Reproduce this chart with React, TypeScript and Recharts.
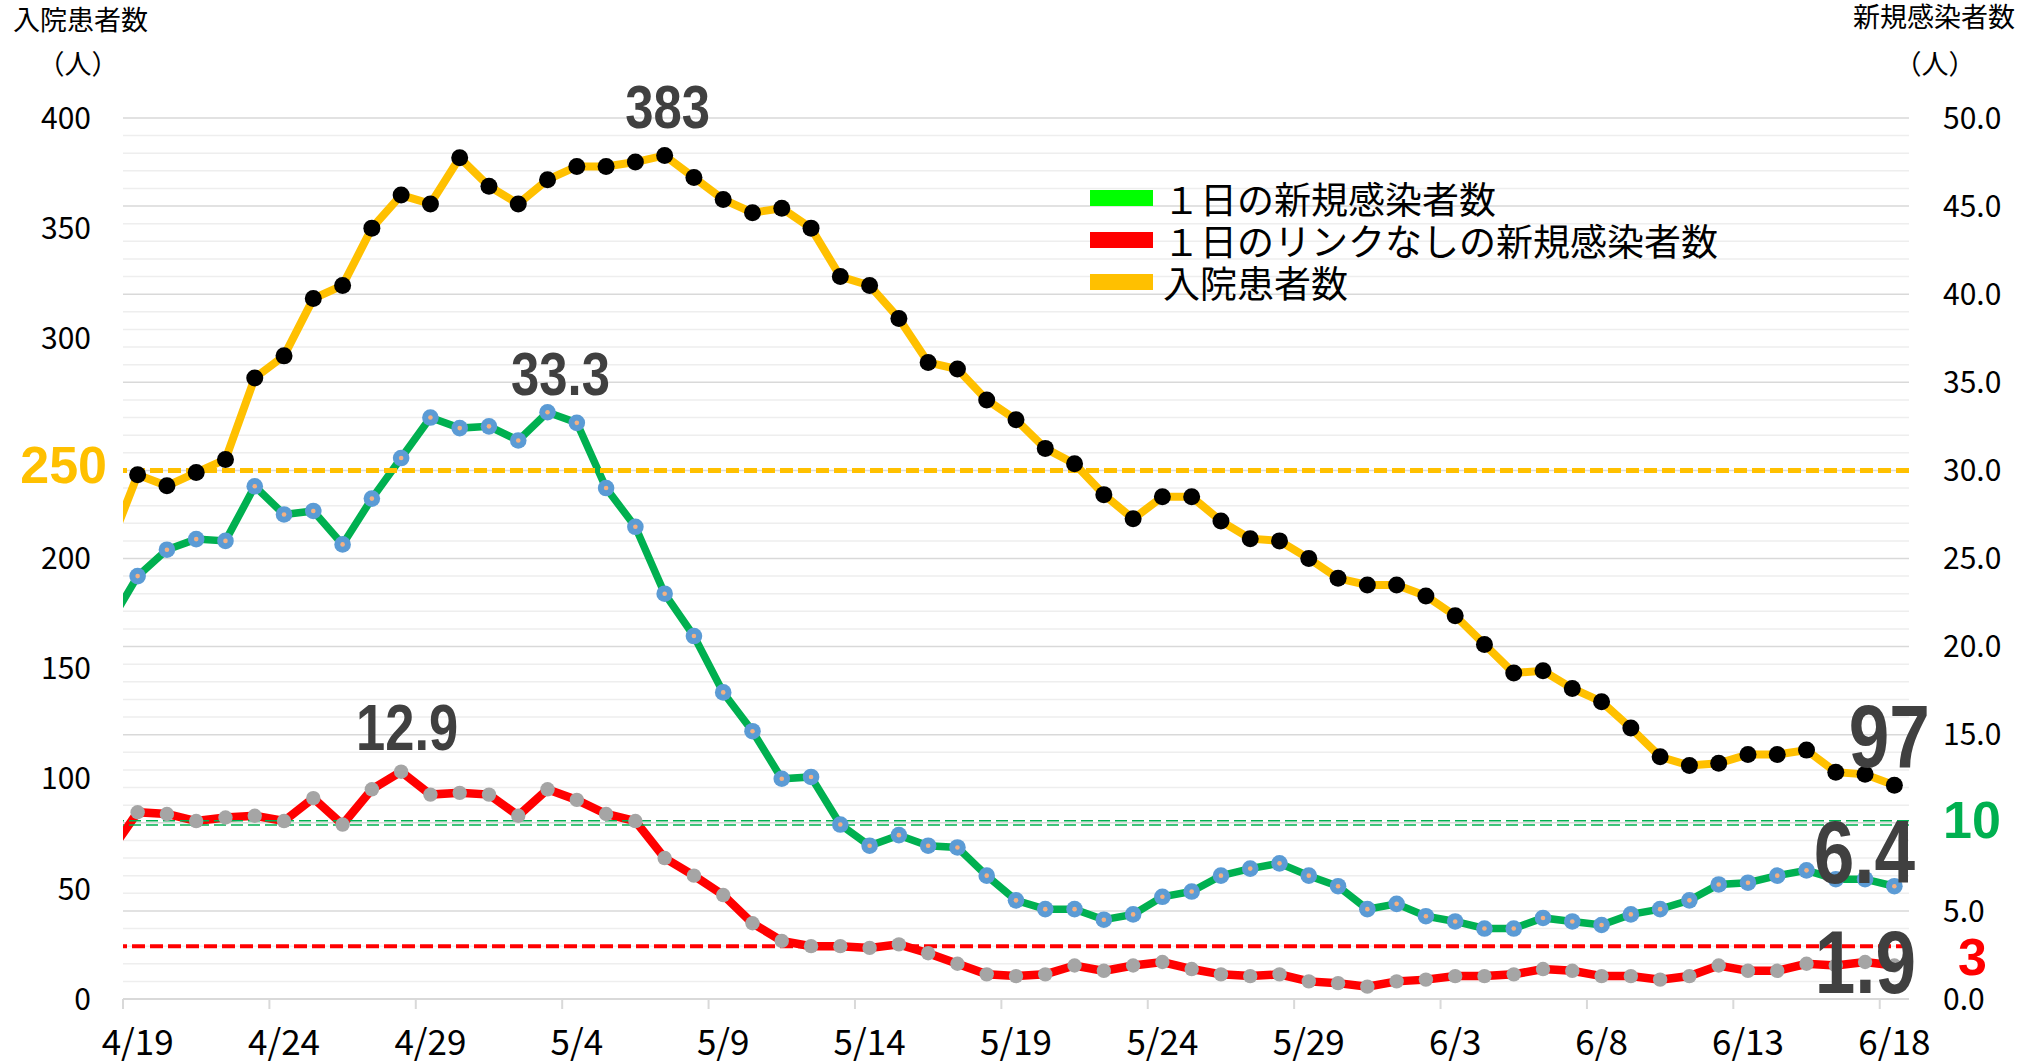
import React from 'react';
import {
  LineChart,
  Line,
  XAxis,
  YAxis,
  CartesianGrid,
  ReferenceLine,
  LabelList
} from 'recharts';

// 4/18 is only the left edge of the line (clipped), 4/19 .. 6/18 are drawn
const dates = [
  '4/18', '4/19', '4/20', '4/21', '4/22', '4/23', '4/24', '4/25', '4/26', '4/27', '4/28', '4/29', '4/30',
  '5/1', '5/2', '5/3', '5/4', '5/5', '5/6', '5/7', '5/8', '5/9', '5/10', '5/11', '5/12', '5/13', '5/14',
  '5/15', '5/16', '5/17', '5/18', '5/19', '5/20', '5/21', '5/22', '5/23', '5/24', '5/25', '5/26', '5/27',
  '5/28', '5/29', '5/30', '5/31', '6/1', '6/2', '6/3', '6/4', '6/5', '6/6', '6/7', '6/8', '6/9', '6/10',
  '6/11', '6/12', '6/13', '6/14', '6/15', '6/16', '6/17', '6/18'
];

// 入院患者数 (left axis)
const hospitalized = [
  204, 238, 233, 239, 245, 282, 292, 318, 324, 350, 365, 361, 382,
  369, 361, 372, 378, 378, 380, 383, 373, 363, 357, 359, 350, 328, 324, 309, 289, 286,
  272, 263, 250, 243, 229, 218, 228, 228, 217, 209, 208, 200, 191, 188,
  188, 183, 174, 161, 148, 149, 141, 135, 123, 110, 106, 107, 111, 111, 113, 103, 102, 97
];

// １日の新規感染者数 (right axis)
const newCases = [
  21.2, 24.0, 25.5, 26.1, 26.0, 29.1, 27.5, 27.7, 25.8, 28.4, 30.7, 33.0, 32.4,
  32.5, 31.7, 33.3, 32.7, 29.0, 26.8, 23.0, 20.6, 17.4, 15.2, 12.5, 12.6, 9.9, 8.7, 9.3, 8.7,
  8.6, 7.0, 5.6, 5.1, 5.1, 4.5, 4.8, 5.8, 6.1, 7.0, 7.4, 7.7, 7.0, 6.4, 5.1,
  5.4, 4.7, 4.4, 4.0, 4.0, 4.6, 4.4, 4.2, 4.8, 5.1, 5.6, 6.5, 6.6, 7.0, 7.3, 6.8, 6.8, 6.4
];

// １日のリンクなしの新規感染者数 (right axis)
const unlinkedCases = [
  8.2, 10.6, 10.5, 10.1, 10.3, 10.4, 10.1, 11.4, 9.9, 11.9, 12.9, 11.6, 11.7,
  11.6, 10.4, 11.9, 11.3, 10.5, 10.1, 8.0, 7.0, 5.9, 4.3, 3.3, 3.0, 3.0, 2.9, 3.1, 2.6,
  2.0, 1.4, 1.3, 1.4, 1.9, 1.6, 1.9, 2.1, 1.7, 1.4, 1.3, 1.4, 1.0, 0.9, 0.7,
  1.0, 1.1, 1.3, 1.3, 1.4, 1.7, 1.6, 1.3, 1.3, 1.1, 1.3, 1.9, 1.6, 1.6, 2.0, 1.9, 2.1, 1.9
];

const dateTicks = ['4/19', '4/24', '4/29', '5/4', '5/9', '5/14', '5/19', '5/24', '5/29', '6/3', '6/8', '6/13', '6/18'];
const leftTicks = [0, 50, 100, 150, 200, 300, 350, 400];
// 10 is replaced by the green "10" label
const rightTicks = [0, 5, 15, 20, 25, 30, 35, 40, 45, 50];

const hospLimit = 30;   // drawn on right axis, labelled 250
const casesLimit = 10;
const unlinkedLimit = 3;

const legendItems = [
  { name: '１日の新規感染者数', color: '#00FF00' },
  { name: '１日のリンクなしの新規感染者数', color: '#FF0000' },
  { name: '入院患者数', color: '#FFC000' }
];

const CHART_W = 2029;
const CHART_H = 1062;
const LEFT_W = 123;
const RIGHT_W = 120;
const TOP = 118;
const X_MIN = -0.5;
const X_MAX = 60.5;
const DAY_PX = (CHART_W - LEFT_W - RIGHT_W) / (X_MAX - X_MIN);

const FONT_JP = '"Noto Sans CJK JP", "Noto Sans", sans-serif';
const FONT_BOLD = '"Liberation Sans", Arial, sans-serif';

const data = dates.map((d, i) => ({
  x: i - 1,
  date: d,
  hosp: hospitalized[i],
  cases: newCases[i],
  unlinked: unlinkedCases[i]
}));

const tickBounds = dateTicks.map((t) => dates.indexOf(t) - 1.5);
const majorGrid = [5, 10, 15, 20, 25, 30, 35, 40, 45, 50];
const minorGrid = Array.from({ length: 50 }, (_, i) => i + 1).filter((v) => v % 5 !== 0);

const DateTick = (props: any) => {
  const { x, y, payload } = props;
  const label = dates[Math.round(payload.value + 1.5)];
  return (
    <text x={x + DAY_PX / 2} y={y + 44} textAnchor="middle" fontSize={35} fill="#000" fontFamily={FONT_JP}>
      {label}
    </text>
  );
};

const YellowDot = (props: any) => (
  <circle key={props.index} cx={props.cx} cy={props.cy} r={8.5} fill="#000" />
);

const BlueDot = (props: any) => (
  <g key={props.index}>
    <circle cx={props.cx} cy={props.cy} r={8.3} fill="#5B9BD5" />
    <circle cx={props.cx} cy={props.cy} r={2.3} fill="#F4B183" />
  </g>
);

const GreyDot = (props: any) => (
  <circle key={props.index} cx={props.cx} cy={props.cy} r={7.2} fill="#A5A5A5" />
);

type Mark = { date: string; dx: number; dy: number; size: number };

const makeLabel = (marks: Mark[]) => (props: any) => {
  const m = marks.find((mm) => dates.indexOf(mm.date) === props.index);
  if (!m) return null;
  return (
    <text
      key={props.index}
      transform={`translate(${props.x + m.dx},${props.y + m.dy}) scale(0.82,1)`}
      textAnchor="middle"
      fontSize={m.size}
      fontWeight="bold"
      fill="#404040"
      fontFamily={FONT_BOLD}
    >
      {String(props.value)}
    </text>
  );
};

const hospLabels = makeLabel([
  { date: '5/7', dx: 3, dy: -27, size: 62 },
  { date: '6/18', dx: -5, dy: -18, size: 89 }
]);
const casesLabels = makeLabel([
  { date: '5/3', dx: 13, dy: -17, size: 62 },
  { date: '6/18', dx: -30, dy: -3, size: 89 }
]);
const unlinkedLabels = makeLabel([
  { date: '4/28', dx: 6, dy: -22, size: 64 },
  { date: '6/18', dx: -29, dy: 27, size: 89 }
]);

const limitLabel = (text: string, color: string, side: 'left' | 'right', dx: number, dy: number) =>
  (props: any) => {
    const vb = props.viewBox || {};
    const x = side === 'left' ? vb.x + dx : vb.x + vb.width + dx;
    return (
      <text
        x={x}
        y={vb.y + dy}
        textAnchor={side === 'left' ? 'end' : 'start'}
        fontSize={52}
        fontWeight="bold"
        fill={color}
        fontFamily={FONT_BOLD}
      >
        {text}
      </text>
    );
  };

const LeftTitle = () => (
  <g fontFamily={FONT_JP} fontSize={27} fill="#000">
    <text x={13} y={30}>入院患者数</text>
    <text x={78} y={74} textAnchor="middle">（人）</text>
  </g>
);

const RightTitle = () => (
  <g fontFamily={FONT_JP} fontSize={27} fill="#000">
    <text x={1853} y={27}>新規感染者数</text>
    <text x={1935} y={74} textAnchor="middle">（人）</text>
  </g>
);

export default function App() {
  return (
    <div style={{ position: 'absolute', left: 0, top: 0, width: CHART_W, height: CHART_H, background: '#fff' }}>
      <LineChart
        width={CHART_W}
        height={CHART_H}
        data={data}
        margin={{ top: TOP, right: 0, bottom: 0, left: 0 }}
      >
        <CartesianGrid vertical={false} yAxisId="right" horizontalValues={minorGrid} stroke="#eeeeee" strokeWidth={1.5} />
        <CartesianGrid vertical={false} yAxisId="right" horizontalValues={majorGrid} stroke="#d9d9d9" strokeWidth={1.5} />
        <XAxis
          dataKey="x"
          type="number"
          domain={[X_MIN, X_MAX]}
          allowDataOverflow
          ticks={tickBounds}
          interval={0}
          height={CHART_H - 999}
          tickSize={10}
          tickMargin={2}
          axisLine={{ stroke: '#d9d9d9', strokeWidth: 2 }}
          tickLine={{ stroke: '#d9d9d9', strokeWidth: 2 }}
          tick={<DateTick />}
        />
        <YAxis
          yAxisId="left"
          domain={[0, 400]}
          ticks={leftTicks}
          interval={0}
          width={LEFT_W}
          axisLine={false}
          tickLine={false}
          tickSize={0}
          tickMargin={32}
          tick={{ fontSize: 30, fill: '#000', fontFamily: FONT_JP }}
          label={{ content: () => <LeftTitle /> }}
        />
        <YAxis
          yAxisId="right"
          orientation="right"
          domain={[0, 50]}
          ticks={rightTicks}
          interval={0}
          width={RIGHT_W}
          axisLine={false}
          tickLine={false}
          tickSize={0}
          tickMargin={34}
          tickFormatter={(v: number) => v.toFixed(1)}
          tick={{ fontSize: 30, fill: '#000', fontFamily: FONT_JP, textAnchor: 'start' }}
          label={{ content: () => <RightTitle /> }}
        />

        <Line
          yAxisId="right"
          dataKey="unlinked"
          stroke="#FF0000"
          strokeWidth={8.5}
          dot={<GreyDot />}
          activeDot={false}
          isAnimationActive={false}
        >
          <LabelList dataKey="unlinked" content={unlinkedLabels} />
        </Line>
        <Line
          yAxisId="right"
          dataKey="cases"
          stroke="#00B050"
          strokeWidth={7.5}
          dot={<BlueDot />}
          activeDot={false}
          isAnimationActive={false}
        >
          <LabelList dataKey="cases" content={casesLabels} />
        </Line>
        <Line
          yAxisId="left"
          dataKey="hosp"
          stroke="#FFC000"
          strokeWidth={8}
          dot={<YellowDot />}
          activeDot={false}
          isAnimationActive={false}
        >
          <LabelList dataKey="hosp" content={hospLabels} />
        </Line>

        <ReferenceLine
          yAxisId="right"
          y={hospLimit}
          stroke="#FFC000"
          strokeWidth={5}
          strokeDasharray="13 5"
          label={{ content: limitLabel('250', '#FFC000', 'left', -16, 13) }}
        />
        <ReferenceLine yAxisId="right" y={casesLimit + 0.12} stroke="#00B050" strokeWidth={1.5} strokeDasharray="12 5" />
        <ReferenceLine
          yAxisId="right"
          y={casesLimit - 0.12}
          stroke="#00B050"
          strokeWidth={1.5}
          strokeDasharray="12 5"
          label={{ content: limitLabel('10', '#00B050', 'right', 34, 13) }}
        />
        <ReferenceLine
          yAxisId="right"
          y={unlinkedLimit}
          stroke="#FF0000"
          strokeWidth={4}
          strokeDasharray="13 5"
          label={{ content: limitLabel('3', '#FF0000', 'right', 49, 29) }}
        />
      </LineChart>

      <div style={{ position: 'absolute', left: 1090, top: 177, fontFamily: FONT_JP, fontSize: 37, lineHeight: 1, color: '#000' }}>
        {legendItems.map((item) => (
          <div key={item.name} style={{ display: 'flex', alignItems: 'center', height: 42, whiteSpace: 'nowrap' }}>
            <span style={{ display: 'inline-block', width: 63, height: 16, background: item.color, marginRight: 10 }} />
            <span>{item.name}</span>
          </div>
        ))}
      </div>
    </div>
  );
}
